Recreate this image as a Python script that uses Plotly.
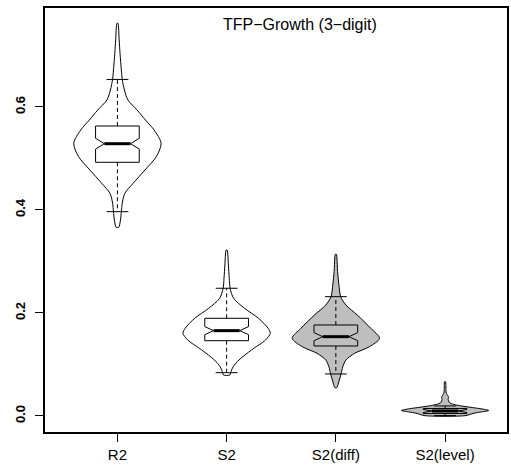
import plotly.graph_objects as go

# ---- data ----
categories = ["R2", "S2", "S2(diff)", "S2(level)"]

# violin outlines: values and relative density (1 = widest)
r2_vals = [0.7625, 0.730, 0.704, 0.672, 0.654, 0.633, 0.6136, 0.5942, 0.5748, 0.5553,
           0.5295, 0.5035, 0.4777, 0.4518, 0.4324, 0.413, 0.3967, 0.3806, 0.3664]
r2_dens = [0.01, 0.04, 0.06, 0.09, 0.11, 0.16, 0.24, 0.45, 0.64, 0.84,
           1.0, 0.89, 0.63, 0.36, 0.17, 0.11, 0.09, 0.07, 0.03]

s2_vals = [0.3223, 0.2932, 0.2674, 0.2480, 0.2285, 0.2091, 0.1897, 0.1703, 0.1606,
           0.1476, 0.1282, 0.1087, 0.0957, 0.0841, 0.0796]
s2_dens = [0.01, 0.04, 0.06, 0.08, 0.16, 0.41, 0.73, 0.95, 1.0,
           0.89, 0.57, 0.28, 0.15, 0.09, 0.075]

s2d_vals = [0.314, 0.2802, 0.2544, 0.2317, 0.2155, 0.1961, 0.1703, 0.1509, 0.1346,
            0.1217, 0.1087, 0.0957, 0.0816, 0.0699, 0.0550]
s2d_dens = [0.01, 0.04, 0.07, 0.11, 0.23, 0.49, 0.80, 1.0, 0.77,
            0.43, 0.23, 0.16, 0.12, 0.08, 0.02]

s2l_vals = [0.0666, 0.050, 0.044, 0.040, 0.036, 0.032, 0.027, 0.024, 0.021, 0.017,
            0.014, 0.0107, 0.008, 0.005, 0.0008]
s2l_dens = [0.01, 0.02, 0.03, 0.06, 0.08, 0.07, 0.09, 0.14, 0.27, 0.57,
            0.82, 1.0, 0.84, 0.64, 0.48]

# box statistics
whisk_hi = [0.6535, 0.248, 0.2317, 0.0195]
q3 = [0.5631, 0.1897, 0.1767, 0.0146]
med = [0.5287, 0.1657, 0.154, 0.0097]
q1 = [0.4926, 0.1462, 0.1359, 0.0049]
whisk_lo = [0.3967, 0.0841, 0.0816, 0.0008]
notch = [0.0105, 0.0078, 0.0078, 0.003]

# ---- styling ----
fills = ["white", "white", "#bebebe", "#bebebe"]
VW = 0.40   # violin half width
BW = 0.20   # box half width
NW = 0.60   # notch inner fraction
CW = 0.10   # whisker cap half width

violins = [(r2_vals, r2_dens), (s2_vals, s2_dens), (s2d_vals, s2d_dens), (s2l_vals, s2l_dens)]

fig = go.Figure()
for i, (vals, dens) in enumerate(violins):
    pos = i + 1
    xs = [pos + d * VW for d in dens] + [pos - d * VW for d in reversed(dens)]
    ys = list(vals) + list(reversed(vals))
    xs.append(xs[0]); ys.append(ys[0])
    fig.add_trace(go.Scatter(x=xs, y=ys, mode="lines", fill="toself",
                             fillcolor=fills[i],
                             line=dict(color="black", width=1, shape="spline", smoothing=0.8),
                             hoverinfo="skip"))
    # dashed whiskers
    fig.add_trace(go.Scatter(x=[pos, pos, None, pos, pos],
                             y=[q3[i], whisk_hi[i], None, q1[i], whisk_lo[i]],
                             mode="lines", line=dict(color="black", width=1, dash="4px,3px"),
                             hoverinfo="skip"))
    # whisker caps
    fig.add_trace(go.Scatter(x=[pos - CW, pos + CW, None, pos - CW, pos + CW],
                             y=[whisk_hi[i], whisk_hi[i], None, whisk_lo[i], whisk_lo[i]],
                             mode="lines", line=dict(color="black", width=1),
                             hoverinfo="skip"))
    # notched box
    bx = [pos - BW, pos - BW, pos - BW * NW, pos - BW, pos - BW,
          pos + BW, pos + BW, pos + BW * NW, pos + BW, pos + BW, pos - BW]
    by = [q1[i], med[i] - notch[i], med[i], med[i] + notch[i], q3[i],
          q3[i], med[i] + notch[i], med[i], med[i] - notch[i], q1[i], q1[i]]
    fig.add_trace(go.Scatter(x=bx, y=by, mode="lines",
                             line=dict(color="black", width=1), hoverinfo="skip"))
    # median
    fig.add_trace(go.Scatter(x=[pos - BW * NW, pos + BW * NW], y=[med[i], med[i]],
                             mode="lines", line=dict(color="black", width=3),
                             hoverinfo="skip"))

fig.add_annotation(text="TFP\u2212Growth (3\u2212digit)", xref="paper", yref="paper",
                   x=0.552, y=0.96, xanchor="center", yanchor="middle", showarrow=False,
                   font=dict(family="Liberation Sans, Arial, sans-serif", size=16, color="black"))

fig.update_layout(
    width=511, height=469,
    margin=dict(l=45, r=2, t=8, b=37),
    plot_bgcolor="white", paper_bgcolor="white",
    showlegend=False,
    font=dict(family="Liberation Sans, Arial, sans-serif", color="black"),
)
fig.update_xaxes(range=[0.337, 4.567], tickvals=[1, 2, 3, 4], ticktext=categories,
                 ticks="outside", ticklen=8, tickwidth=1, tickcolor="black",
                 showline=True, linewidth=2, linecolor="black", mirror=True,
                 showgrid=False, zeroline=False, tickfont=dict(size=15))
fig.update_yaxes(range=[-0.0311, 0.7922], tickvals=[0, 0.2, 0.4, 0.6],
                 ticktext=["0.0", "0.2", "0.4", "0.6"], tickangle=-90,
                 ticks="outside", ticklen=8, tickwidth=1, tickcolor="black",
                 ticklabelstandoff=5,
                 showline=True, linewidth=2, linecolor="black", mirror=True,
                 showgrid=False, zeroline=False,
                 tickfont=dict(size=13, family="Liberation Sans, Arial, sans-serif", weight="bold"))

fig.write_html("out.html", config={"displayModeBar": False, "staticPlot": True})

# remove the browser's default page margin so the figure sits at the top-left corner
with open("out.html", "r", encoding="utf-8") as f:
    html = f.read()
html = html.replace("<head>", "<head><style>html,body{margin:0;padding:0;overflow:hidden;}</style>", 1)
with open("out.html", "w", encoding="utf-8") as f:
    f.write(html)
